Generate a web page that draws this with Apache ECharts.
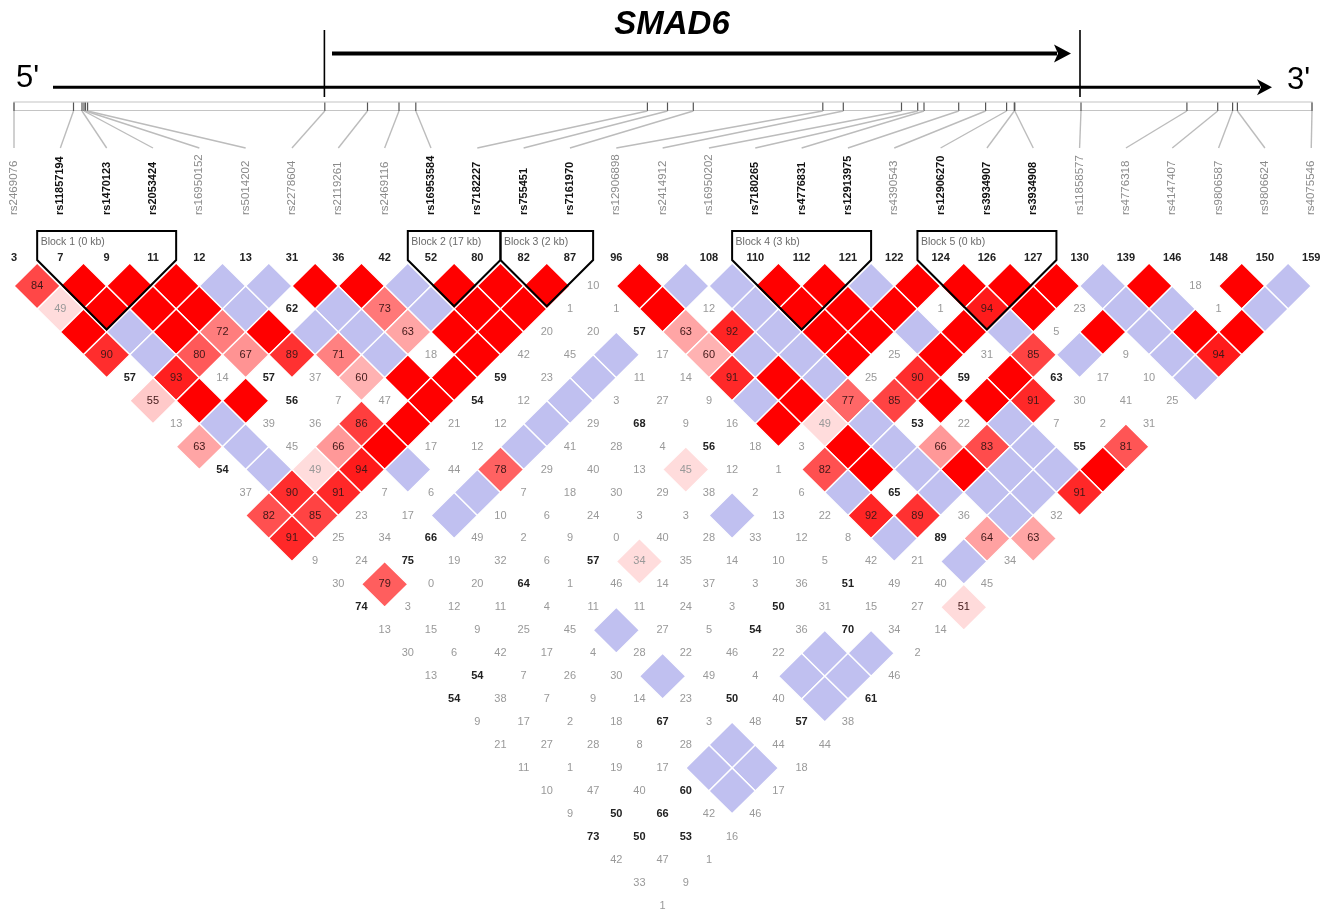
<!DOCTYPE html>
<html>
<head>
<meta charset="utf-8">
<style>html,body{margin:0;padding:0;background:#fff}#c{width:1328px;height:909px}</style>
<script src="https://cdn.jsdelivr.net/npm/echarts@6/dist/echarts.min.js"></script>
</head>
<body>
<div id="c"></div>
<script>
// SNP names, the numbers printed above the matrix, and which names are bold
const snpNames = ['rs2469076','rs11857194','rs1470123','rs2053424','rs16950152','rs5014202','rs2278604','rs2119261','rs2469116','rs16953584','rs7182227','rs755451','rs7161970','rs12906898','rs2414912','rs16950202','rs7180265','rs4776831','rs12913975','rs4390543','rs12906270','rs3934907','rs3934908','rs11858577','rs4776318','rs4147407','rs9806587','rs9806624','rs4075546'];
const snpNumbers = ['3','7','9','11','12','13','31','36','42','52','80','82','87','96','98','108','110','112','121','122','124','126','127','130','139','146','148','150','159'];
const boldSnps = ['rs11857194','rs1470123','rs2053424','rs16953584','rs7182227','rs755451','rs7161970','rs7180265','rs4776831','rs12913975','rs12906270','rs3934907','rs3934908'];
// Position of each SNP along the gene track (distance from its left end)
const trackPositions = [0,59.5,68,70,71.5,73.6,310.8,353.5,385,401.8,633.4,653.5,679.3,808.8,829.3,887.5,903.7,910,944.7,971.6,992.6,1000.3,1000.8,1067,1172.9,1203.7,1218.6,1223.4,1298];
const trackLength = 1298;
const geneBounds = [310.4, 1066];
// Haplotype blocks: name, first SNP, last SNP
const blockNames = ['Block 1 (0 kb)','Block 2 (17 kb)','Block 3 (2 kb)','Block 4 (3 kb)','Block 5 (0 kb)'];
const blockFirst = [1,9,11,16,20];
const blockLast = [3,10,12,18,22];
// LD matrix, one list per SNP distance. R = strong LD, B = D'=1 low LOD,
// 'pNN' = D' NN in a shaded cell, plain NN = D' NN in an unshaded cell.
const R='R', B='B';
const row01 = ['p84',R,R,R,B,B,R,R,B,R,R,R,10,R,B,B,R,R,B,R,R,R,R,B,R,18,R,B];
const row02 = ['p49',R,R,R,B,62,B,'p73',B,R,R,1,1,R,12,B,R,R,R,1,'p94',R,23,B,B,1,B];
const row03 = [R,B,R,'p72',R,B,B,'p63',R,R,20,20,57,'p63','p92',B,R,R,B,R,B,5,R,B,R,R];
const row04 = ['p90',B,'p80','p67','p89','p71',B,18,R,42,45,B,17,'p60',B,B,R,25,R,31,'p85',B,9,B,'p94'];
const row05 = [57,'p93',14,57,37,'p60',R,R,59,23,B,11,14,'p91',R,B,25,'p90',59,R,63,17,10,B];
const row06 = ['p55',R,R,56,7,47,R,54,12,B,3,27,9,B,R,'p77','p85',R,R,'p91',30,41,25];
const row07 = [13,B,39,36,'p86',R,21,12,B,29,68,9,16,R,'p49',B,53,22,B,7,2,31];
const row08 = ['p63',B,45,'p66',R,17,12,B,41,28,4,56,18,3,R,B,'p66','p83',B,55,'p81'];
const row09 = [54,B,'p49','p94',B,44,'p78',29,40,13,'p45',12,1,'p82',R,B,R,B,B,R];
const row10 = [37,'p90','p91',7,6,B,7,18,30,29,38,2,6,B,65,B,B,B,'p91'];
const row11 = ['p82','p85',23,17,B,10,6,24,3,3,B,13,22,'p92','p89',36,B,32];
const row12 = ['p91',25,34,66,49,2,9,0,40,28,33,12,8,B,89,'p64','p63'];
const row13 = [9,24,75,19,32,6,57,'p34',35,14,10,5,42,21,B,34];
const row14 = [30,'p79',0,20,64,1,46,14,37,3,36,51,49,40,45];
const row15 = [74,3,12,11,4,11,11,24,3,50,31,15,27,'p51'];
const row16 = [13,15,9,25,45,B,27,5,54,36,70,34,14];
const row17 = [30,6,42,17,4,28,22,46,22,B,B,2];
const row18 = [13,54,7,26,30,B,49,4,B,B,46];
const row19 = [54,38,7,9,14,23,50,40,B,61];
const row20 = [9,17,2,18,67,3,48,57,38];
const row21 = [21,27,28,8,28,B,44,44];
const row22 = [11,1,19,17,B,B,18];
const row23 = [10,47,40,60,B,17];
const row24 = [9,50,66,42,46];
const row25 = [73,50,53,16];
const row26 = [42,47,1];
const row27 = [33,9];
const row28 = [1];
const ldRows = [row01,row02,row03,row04,row05,row06,row07,row08,row09,row10,row11,row12,row13,row14,row15,row16,row17,row18,row19,row20,row21,row22,row23,row24,row25,row26,row27,row28];

// Layout of the axes: pixel spacing of one SNP and one matrix row.
const SNP_PX = 46.33, SNP0_PX = 14, ROW_PX = 22.95, ROW1_PX = 286;
const rowAt = px => 1 + (px - ROW1_PX) / ROW_PX;
const snpAt = px => (px - SNP0_PX) / SNP_PX;
const trackX = p => p / SNP_PX;

const FONT = '"Liberation Sans", Arial, sans-serif';

function ldColor(d) {
  const g = d < 0.5 ? 220 : 223 * (1 - 2 * (d - 0.5));
  const v = Math.round(g);
  return 'rgb(255,' + v + ',' + v + ')';
}

const cellData = [];
ldRows.forEach((cells, r) => {
  cells.forEach((c, i) => {
    const x = i + (r + 1) / 2;
    if (c === R) cellData.push([x, r + 1, '', 'R']);
    else if (c === B) cellData.push([x, r + 1, '', 'B']);
    else if (typeof c === 'string') cellData.push([x, r + 1, +c.slice(1), 'P']);
    else cellData.push([x, r + 1, c, 'W']);
  });
});

function renderCell(params, api) {
  const [x, r, v, kind] = cellData[params.dataIndex];
  const children = [];
  if (kind !== 'W') {
    const pts = [api.coord([x - 0.5, r]), api.coord([x, r - 1]), api.coord([x + 0.5, r]), api.coord([x, r + 1])];
    const fill = kind === 'R' ? '#ff0000' : kind === 'B' ? '#c0c0f0' : ldColor(v / 100);
    children.push({ type: 'polygon', shape: { points: pts }, style: { fill: fill, stroke: '#ffffff', lineWidth: 1.4 } });
  }
  if (v !== '') {
    const c = api.coord([x, r]);
    const strong = v >= 50;
    const bold = kind === 'W' && strong;
    children.push({
      type: 'text', z2: 5,
      style: {
        text: String(v), x: c[0], y: c[1], align: 'center', verticalAlign: 'middle',
        fill: strong ? (kind === 'W' ? '#222222' : '#401818') : '#999999',
        font: (bold ? 'bold ' : '') + '11px ' + FONT
      }
    });
  }
  return { type: 'group', children };
}

const headerData = snpNumbers.map((n, i) => [i, n, snpNames[i], trackPositions[i]]);

function renderHeader(params, api) {
  const d = headerData[params.dataIndex];
  const xc = api.coord([d[0], rowAt(258)]);
  const t1 = api.coord([trackX(d[3]), rowAt(102.5)]);
  const top = api.coord([trackX(d[3]), rowAt(111)]);
  const bot = api.coord([d[0], rowAt(148)]);
  const base = api.coord([d[0], rowAt(215)]);
  const isBold = boldSnps.indexOf(d[2]) >= 0;
  return {
    type: 'group',
    children: [
      { type: 'line', shape: { x1: t1[0], y1: t1[1], x2: t1[0], y2: top[1] }, style: { stroke: '#555555', lineWidth: 1.2 } },
      { type: 'line', shape: { x1: top[0], y1: top[1], x2: bot[0], y2: bot[1] }, style: { stroke: '#bcbcbc', lineWidth: 1.4 } },
      { type: 'text', x: base[0], y: base[1], rotation: Math.PI / 2,
        style: { text: d[2], x: 0, y: 0, align: 'left', verticalAlign: 'middle',
                 fill: isBold ? '#111111' : '#8a8a8a', font: (isBold ? 'bold 11px ' : '11.5px ') + FONT } },
      { type: 'text', style: { text: d[1], x: xc[0], y: xc[1], align: 'center', verticalAlign: 'middle', fill: '#222222', font: 'bold 11px ' + FONT } }
    ]
  };
}

const blockData = blockNames.map((n, i) => [blockFirst[i], blockLast[i], n]);

function renderBlock(params, api) {
  const d = blockData[params.dataIndex];
  const l = d[0] - 0.5, rr = d[1] + 0.5, mid = (l + rr) / 2;
  const apexPx = 260 + (rr - l) / 2 * SNP_PX;
  const pts = [
    api.coord([l, rowAt(260)]), api.coord([l, rowAt(231)]), api.coord([rr, rowAt(231)]),
    api.coord([rr, rowAt(260)]), api.coord([mid, rowAt(apexPx)])
  ];
  const lab = api.coord([l, rowAt(242)]);
  return {
    type: 'group',
    children: [
      { type: 'polygon', shape: { points: pts }, style: { fill: 'none', stroke: '#000000', lineWidth: 2 } },
      { type: 'text', style: { text: d[2], x: lab[0] + 3.5, y: lab[1], align: 'left', verticalAlign: 'middle', fill: '#6a6a6a', font: '10.5px ' + FONT } }
    ]
  };
}

function renderBound(params, api) {
  const p = geneBounds[params.dataIndex];
  const a = api.coord([trackX(p), rowAt(30)]), b = api.coord([trackX(p), rowAt(97)]);
  return { type: 'line', shape: { x1: a[0], y1: a[1], x2: b[0], y2: b[1] }, style: { stroke: '#000000', lineWidth: 1.6 } };
}

function arrow(x1, x2, y, w, len, hh) {
  return [
    { type: 'line', shape: { x1: x1, y1: y, x2: x2 - len + 3, y2: y }, style: { stroke: '#000', lineWidth: w } },
    { type: 'polygon', shape: { points: [[x2 - len, y - hh], [x2, y], [x2 - len, y + hh], [x2 - len + 4, y]] }, style: { fill: '#000' } }
  ];
}

const chart = echarts.init(document.getElementById('c'), null, { renderer: 'canvas', width: 1328, height: 909 });
chart.setOption({
  animation: false,
  backgroundColor: '#ffffff',
  grid: { left: 0, right: 0, top: 0, bottom: 0 },
  xAxis: { type: 'value', show: false, min: snpAt(0), max: snpAt(1328), splitLine: { show: false } },
  yAxis: { type: 'value', show: false, inverse: true, min: rowAt(0), max: rowAt(909), splitLine: { show: false } },
  graphic: { elements: [
    { type: 'text', style: { text: 'SMAD6', x: 672, y: 25, align: 'center', verticalAlign: 'middle', fill: '#000', font: 'italic bold 33px ' + FONT } },
    { type: 'text', style: { text: "5'", x: 16, y: 78, align: 'left', verticalAlign: 'middle', fill: '#000', font: '31px ' + FONT } },
    { type: 'text', style: { text: "3'", x: 1287, y: 80, align: 'left', verticalAlign: 'middle', fill: '#000', font: '31px ' + FONT } },
    ...arrow(53, 1272, 87.3, 3, 15, 8),
    ...arrow(332, 1071, 53.5, 4, 17, 9),
    { type: 'rect', z: -1, shape: { x: SNP0_PX, y: 102, width: trackLength, height: 8.5 }, style: { fill: '#fff', stroke: '#c4c4c4', lineWidth: 1.2 } }
  ] },
  series: [
    { type: 'custom', name: 'header', data: headerData.map(d => [d[0]]), renderItem: renderHeader, clip: false, silent: true, z: 2 },
    { type: 'custom', name: 'ld', data: cellData.map(d => [d[0], d[1]]), renderItem: renderCell, clip: false, silent: true, z: 3 },
    { type: 'custom', name: 'blocks', data: blockData.map(d => [d[0], d[1]]), renderItem: renderBlock, clip: false, silent: true, z: 4 },
    { type: 'custom', name: 'gene', data: geneBounds.map(p => [trackX(p)]), renderItem: renderBound, clip: false, silent: true, z: 5 }
  ]
});
</script>
</body>
</html>
